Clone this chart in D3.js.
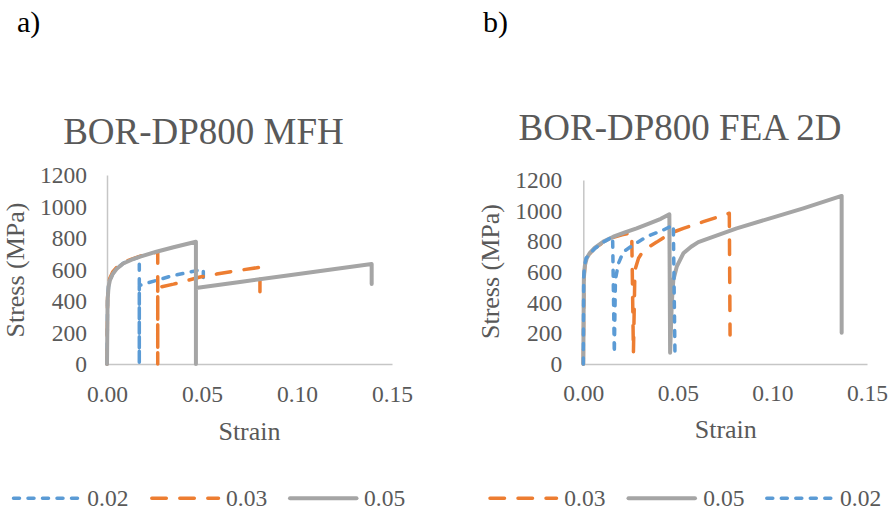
<!DOCTYPE html>
<html>
<head>
<meta charset="utf-8">
<script src="https://cdn.jsdelivr.net/npm/d3@7"></script>
</head>
<body style="margin:0;background:#fff">
<svg id="chart" width="892" height="511" style="display:block"></svg>
<script>
// Axis ticks shared by both panels
const strainTicks = [0, 0.05, 0.10, 0.15];
const stressTicks = [0, 200, 400, 600, 800, 1000, 1200];

// Panel a) MFH stress-strain curves, [strain, stress (MPa)]
const mfh002 = [[0,0],[0.0003,405],[0.0008,492],[0.0015,532],[0.003,573],[0.005,604],[0.0085,639],[0.013,663],[0.017,680],
  [0.017,0],[0.017,498],[0.0217,516],[0.034,559],[0.042,580],[0.0507,601],[0.0507,538]];
const mfh003 = [[0,0],[0.0003,420],[0.0008,505],[0.0015,545],[0.003,585],[0.005,612],[0.0085,643],[0.013,666],[0.0175,685],[0.0267,712],
  [0.0267,0],[0.0267,485],[0.035,507],[0.042,529],[0.049,552],[0.0577,571],[0.068,592],[0.0805,614],[0.0805,459]];
const mfh005 = [[0,0],[0.0003,400],[0.0008,490],[0.0015,530],[0.003,572],[0.005,603],[0.0085,638],[0.013,662],[0.0175,682],[0.026,713],[0.035,741],[0.0468,776],
  [0.0468,0],[0.0468,483],[0.07,521],[0.095,562],[0.12,603],[0.1393,635],[0.1393,508]];

// Panel b) FEA 2D stress-strain curves, [strain, stress (MPa)]
const fea003 = [[0,0],[0.0003,555],[0.0008,636],[0.0018,686],[0.0035,721],[0.006,754],[0.0106,794],[0.0159,826],[0.0205,843],[0.0256,855],
  [0.0265,74],[0.0273,613],[0.0292,690],[0.031,725],[0.0335,755],[0.0388,795],[0.0432,830],[0.0476,860],[0.0529,885],[0.0635,928],[0.0772,983],[0.0776,189]];
const fea005 = [[0,0],[0.0003,560],[0.0008,640],[0.0018,690],[0.0035,725],[0.006,758],[0.0106,798],[0.0159,830],[0.022,858],[0.0282,885],[0.035,917],[0.041,947],[0.0455,976],
  [0.0459,74],[0.0468,400],[0.0476,548],[0.0494,635],[0.0529,722],[0.057,765],[0.0608,795],[0.07,835],[0.0811,885],[0.0987,950],[0.1163,1015],[0.1366,1096],[0.1366,204]];
const fea002 = [[0,0],[0.0002,560],[0.0006,640],[0.0015,690],[0.0035,720],[0.006,752],[0.0106,795],[0.0155,830],
  [0.0164,70],[0.0168,400],[0.017,551],[0.0186,657],[0.0212,732],[0.0264,776],[0.0335,830],[0.0423,874],[0.0476,906],[0.0485,37]];

// Series order (also drawing order) per panel
const mfhSeries = ["0.02", "0.03", "0.05"];
const feaSeries = ["0.03", "0.05", "0.02"];

const seriesStyle = {
  "0.02": { color: "#5B9BD5", width: 3.5, dash: "6,8.5" },
  "0.03": { color: "#ED7D31", width: 3.5, dash: "14.5,13.5" },
  "0.05": { color: "#A5A5A5", width: 4,   dash: null }
};

const panels = [
  {
    label: "a)", labelX: 17, title: "BOR-DP800 MFH", titleSize: 37, titleX: 203.5, titleY: 144,
    x0: 107, x1: 392, y0: 364, y1: 175, xPad: 21, yPad: 20,
    yTitleX: 24, yTitleY: 270, xTitleX: 249.5, xTitleY: 440,
    series: mfhSeries, data: { "0.02": mfh002, "0.03": mfh003, "0.05": mfh005 },
    legend: [[13.5, 80, 87.3], [151.8, 218.5, 226], [290, 356.5, 364]]
  },
  {
    label: "b)", labelX: 483, title: "BOR-DP800 FEA 2D", titleSize: 37, titleX: 680, titleY: 140,
    x0: 583.3, x1: 867, y0: 364, y1: 180, xPad: 20, yPad: 21,
    yTitleX: 499, yTitleY: 271.5, xTitleX: 725.8, xTitleY: 438,
    series: feaSeries, data: { "0.03": fea003, "0.05": fea005, "0.02": fea002 },
    legend: [[490, 556.5, 564.3], [628.5, 695, 703.3], [766.8, 833.3, 840]]
  }
];

const FONT = "Liberation Serif";
const svg = d3.select("#chart");
const textGrey = "#595959";
const axisGrey = "#C6C6C6";

function addText(parent, str, size, fill) {
  return parent.append("text").style("font-family", FONT)
    .attr("font-size", size).attr("fill", fill).text(str);
}

panels.forEach(p => {
  const g = svg.append("g");
  const x = d3.scaleLinear().domain([0, 0.15]).range([p.x0, p.x1]);
  const y = d3.scaleLinear().domain([0, 1200]).range([p.y0, p.y1]);

  // panel letter
  addText(g, p.label, 30, "#000").attr("x", p.labelX).attr("y", 32);

  // chart title
  addText(g, p.title, p.titleSize, textGrey)
    .attr("x", p.titleX).attr("y", p.titleY).attr("text-anchor", "middle");

  // axes
  const xAxis = g.append("g").attr("transform", `translate(0,${p.y0})`)
    .call(d3.axisBottom(x).tickValues(strainTicks).tickFormat(d3.format(".2f"))
      .tickSize(0).tickSizeOuter(0).tickPadding(p.xPad));
  const yAxis = g.append("g").attr("transform", `translate(${p.x0},0)`)
    .call(d3.axisLeft(y).tickValues(stressTicks).tickFormat(d3.format("d"))
      .tickSize(0).tickSizeOuter(0).tickPadding(p.yPad));
  [xAxis, yAxis].forEach(a => {
    a.select(".domain").attr("stroke", axisGrey).attr("stroke-width", 1.5);
    a.selectAll(".tick text").style("font-family", FONT)
      .attr("font-size", 23.5).attr("fill", textGrey);
  });

  // axis titles
  addText(g, "Strain", 26, textGrey)
    .attr("x", p.xTitleX).attr("y", p.xTitleY).attr("text-anchor", "middle");
  addText(g, "Stress (MPa)", 26, textGrey)
    .attr("transform", `translate(${p.yTitleX},${p.yTitleY}) rotate(-90)`)
    .attr("text-anchor", "middle");

  // curves
  const line = d3.line().x(d => x(d[0])).y(d => y(d[1]));
  p.series.forEach(k => {
    const s = seriesStyle[k];
    g.append("path").datum(p.data[k])
      .attr("d", line).attr("fill", "none")
      .attr("stroke", s.color).attr("stroke-width", s.width)
      .attr("stroke-linejoin", "round").attr("stroke-linecap", "round")
      .attr("stroke-dasharray", s.dash);
  });

  // legend
  p.series.forEach((k, i) => {
    const s = seriesStyle[k];
    const [lx1, lx2, tx] = p.legend[i];
    g.append("line").attr("x1", lx1).attr("x2", lx2).attr("y1", 498.3).attr("y2", 498.3)
      .attr("stroke", s.color).attr("stroke-width", s.width)
      .attr("stroke-linecap", "round").attr("stroke-dasharray", s.dash);
    addText(g, k, 23.5, textGrey).attr("x", tx).attr("y", 506);
  });
});
</script>
</body>
</html>
